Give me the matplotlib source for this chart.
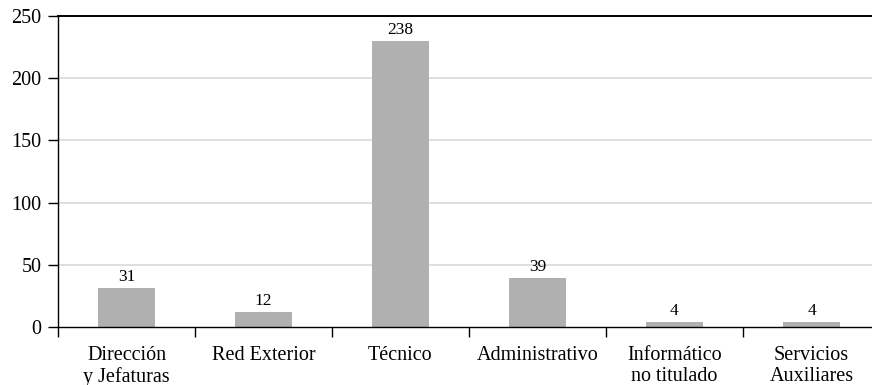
import numpy as np
import matplotlib.pyplot as plt

categories = ['Dirección\ny Jefaturas', 'Red Exterior', 'Técnico',
              'Administrativo', 'Informático\nno titulado', 'Servicios\nAuxiliares']
counts = [31, 12, 238, 39, 4, 4]
# bar heights as drawn in the source chart (the Técnico bar stops short of its label)
bar_heights = [31, 12, 230, 39, 4, 4]

plt.rcParams['font.family'] = ['Liberation Serif', 'DejaVu Serif']

fig = plt.figure(figsize=(8.72, 3.85), dpi=100)
# axes runs a little past the right edge, as in the original
ax = fig.add_axes([58 / 872, 1 - 327 / 385, 822 / 872, 311 / 385])

x = np.arange(len(categories))
ax.bar(x, bar_heights, width=0.41, color='#b0b0b0', zorder=2)
for xi, h, v in zip(x, bar_heights, counts):
    ax.text(xi, h + 2.5, str(v), ha='center', va='bottom', fontsize=12.5)

ax.set_xlim(-0.5, len(categories) - 0.5)
ax.set_ylim(0, 250)
ax.set_yticks([0, 50, 100, 150, 200, 250])
ax.tick_params(axis='y', labelsize=14.5, length=7, width=1, pad=5)

ax.set_xticks(x)
ax.set_xticklabels(categories, fontsize=14.5, linespacing=1.1)
ax.set_xticks(np.arange(len(categories) + 1) - 0.5, minor=True)
ax.tick_params(axis='x', which='major', length=0, pad=14)
ax.tick_params(axis='x', which='minor', length=7, width=1, direction='out')

for y in [50, 100, 150, 200]:
    ax.axhline(y, color='#d9d9d9', lw=1.2, zorder=1)

ax.spines['right'].set_visible(False)
ax.spines['top'].set_linewidth(1.4)
ax.spines['left'].set_linewidth(1)
ax.spines['bottom'].set_linewidth(1)

fig.savefig('out.png', dpi=100)
